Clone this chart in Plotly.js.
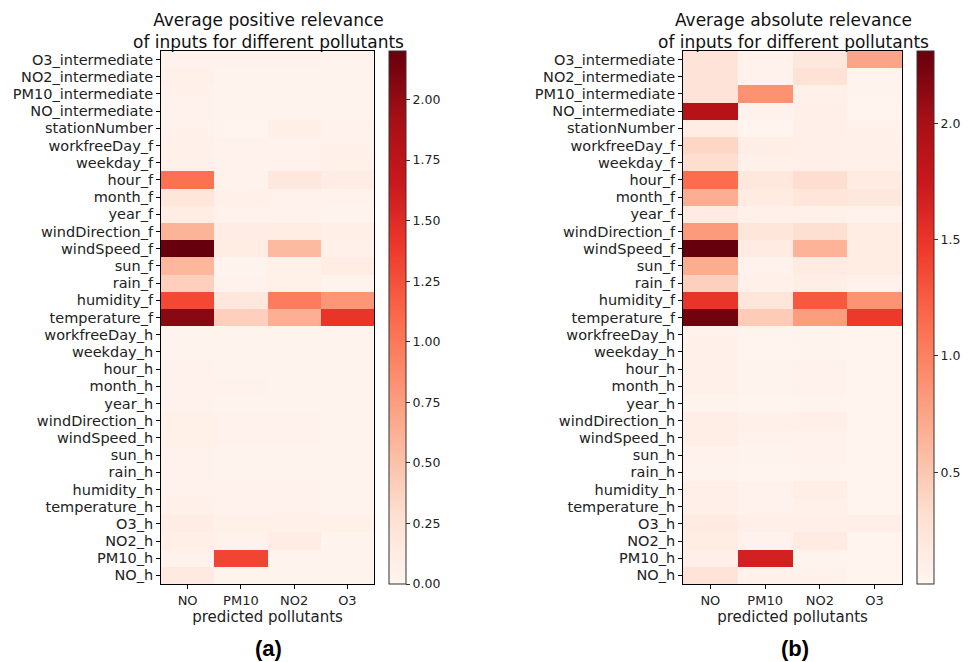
<!DOCTYPE html>
<html><head><meta charset="utf-8">
<script src="https://cdn.plot.ly/plotly-3.0.1.min.js"></script>
<style>html,body{margin:0;padding:0;background:#fff}#chart{width:968px;height:662px}</style>
</head><body><div id="chart"></div>
<script>
const rows = ["O3_intermediate","NO2_intermediate","PM10_intermediate","NO_intermediate","stationNumber","workfreeDay_f","weekday_f","hour_f","month_f","year_f","windDirection_f","windSpeed_f","sun_f","rain_f","humidity_f","temperature_f","workfreeDay_h","weekday_h","hour_h","month_h","year_h","windDirection_h","windSpeed_h","sun_h","rain_h","humidity_h","temperature_h","O3_h","NO2_h","PM10_h","NO_h"];
const pollutants = ["NO","PM10","NO2","O3"];

// (a) average positive relevance
const posNO   = [0.05,0.06,0.04,0.04,0.05,0.06,0.06,1.05,0.20,0.10,0.60,2.20,0.58,0.40,1.30,2.05,0.03,0.03,0.05,0.05,0.04,0.07,0.07,0.04,0.04,0.05,0.06,0.10,0.08,0.04,0.15];
const posPM10 = [0.04,0.03,0.02,0.02,0.01,0.04,0.04,0.04,0.06,0.04,0.10,0.12,0.03,0.04,0.18,0.40,0.02,0.02,0.03,0.04,0.03,0.05,0.04,0.03,0.03,0.04,0.04,0.07,0.05,1.32,0.03];
const posNO2  = [0.05,0.03,0.03,0.03,0.08,0.05,0.05,0.18,0.05,0.04,0.12,0.55,0.07,0.07,0.97,0.63,0.02,0.02,0.03,0.03,0.03,0.05,0.04,0.03,0.03,0.04,0.04,0.06,0.10,0.02,0.03];
const posO3   = [0.03,0.02,0.02,0.02,0.04,0.05,0.06,0.10,0.04,0.03,0.08,0.06,0.12,0.02,0.80,1.43,0.02,0.02,0.02,0.02,0.02,0.02,0.02,0.02,0.02,0.02,0.02,0.07,0.02,0.02,0.02];

// (b) average absolute relevance
const absNO   = [0.25,0.25,0.25,1.90,0.13,0.38,0.32,1.14,0.68,0.15,0.82,2.31,0.70,0.43,1.50,2.26,0.06,0.08,0.08,0.08,0.05,0.12,0.12,0.07,0.05,0.10,0.10,0.15,0.13,0.10,0.25];
const absPM10 = [0.07,0.07,0.88,0.06,0.04,0.12,0.09,0.20,0.15,0.08,0.22,0.15,0.06,0.08,0.22,0.47,0.05,0.04,0.05,0.05,0.04,0.08,0.06,0.05,0.04,0.06,0.06,0.10,0.07,1.67,0.06];
const absNO2  = [0.20,0.28,0.08,0.10,0.10,0.10,0.10,0.32,0.22,0.08,0.30,0.65,0.15,0.12,1.27,0.80,0.05,0.05,0.06,0.06,0.05,0.10,0.07,0.06,0.05,0.12,0.08,0.10,0.15,0.05,0.06];
const absO3   = [0.75,0.05,0.05,0.04,0.06,0.08,0.08,0.16,0.20,0.06,0.14,0.14,0.14,0.06,0.87,1.47,0.04,0.04,0.04,0.04,0.04,0.04,0.04,0.04,0.04,0.04,0.04,0.10,0.04,0.04,0.04];

const reds = [[0,"#fff5f0"],[0.125,"#fee0d2"],[0.25,"#fcbba1"],[0.375,"#fc9272"],[0.5,"#fb6a4a"],[0.625,"#ef3b2c"],[0.75,"#cb181d"],[0.875,"#a50f15"],[1,"#67000d"]];

const zA = rows.map((_, i) => [posNO[i], posPM10[i], posNO2[i], posO3[i]]);
const zB = rows.map((_, i) => [absNO[i], absPM10[i], absNO2[i], absO3[i]]);

const W = 968, H = 662;
const yTop = 51, yBot = 584;
const yDom = [(H - yBot) / H, (H - yTop) / H];
const font = "DejaVu Sans, sans-serif";

const cbCommon = {
  thickness: 17, thicknessmode: "pixels", len: (yBot - yTop) / H, lenmode: "fraction",
  y: (H - yBot) / H, yanchor: "bottom", xanchor: "left", xpad: 0, ypad: 0,
  outlinewidth: 1, outlinecolor: "#333", ticks: "outside", ticklen: 4, tickcolor: "#333",
  tickfont: {family: font, size: 12.5, color: "#222"}
};

const traces = [
  {type: "heatmap", x: pollutants, y: rows, z: zA, xaxis: "x", yaxis: "y",
   colorscale: reds, zmin: 0, zmax: 2.2, xgap: 0, ygap: 0,
   colorbar: Object.assign({}, cbCommon, {x: 389 / W, tick0: 0, dtick: 0.25, tickformat: ".2f"})},
  {type: "heatmap", x: pollutants, y: rows, z: zB, xaxis: "x2", yaxis: "y2",
   colorscale: reds, zmin: 0.02, zmax: 2.31,
   colorbar: Object.assign({}, cbCommon, {x: 917 / W, tick0: 0, dtick: 0.5, tickformat: ".1f"})}
];

const axX = (d) => ({domain: d, showline: true, mirror: true, linecolor: "#000", linewidth: 1,
  ticks: "outside", ticklen: 4, tickcolor: "#000", showgrid: false, zeroline: false,
  tickfont: {family: font, size: 13, color: "#222"},
  title: {text: "predicted pollutants", font: {family: font, size: 15, color: "#222"}, standoff: 3}});
const axY = (anchor) => ({domain: yDom, anchor: anchor, autorange: "reversed", showline: true, mirror: true,
  linecolor: "#000", linewidth: 1, ticks: "outside", ticklen: 4, tickcolor: "#000", showgrid: false,
  zeroline: false, tickfont: {family: font, size: 14.5, color: "#222"}, automargin: false});

const layout = {
  width: W, height: H, margin: {l: 0, r: 0, t: 0, b: 0},
  paper_bgcolor: "#fff", plot_bgcolor: "#fff", showlegend: false,
  xaxis: Object.assign(axX([161 / W, 374 / W]), {anchor: "y"}),
  yaxis: axY("x"),
  xaxis2: Object.assign(axX([683 / W, 902 / W]), {anchor: "y2"}),
  yaxis2: axY("x2"),
  annotations: [
    {text: "Average positive relevance<br>of inputs for different pollutants", xref: "paper", yref: "paper",
     x: 268 / W, y: (H - 31) / H, xanchor: "center", yanchor: "middle", showarrow: false,
     font: {family: font, size: 17, color: "#111"}},
    {text: "Average absolute relevance<br>of inputs for different pollutants", xref: "paper", yref: "paper",
     x: 793 / W, y: (H - 31) / H, xanchor: "center", yanchor: "middle", showarrow: false,
     font: {family: font, size: 17, color: "#111"}},
    {text: "<b>(a)</b>", xref: "paper", yref: "paper", x: 268 / W, y: (H - 648) / H,
     xanchor: "center", yanchor: "middle", showarrow: false,
     font: {family: "Liberation Sans, Arial, sans-serif", size: 22, color: "#000"}},
    {text: "<b>(b)</b>", xref: "paper", yref: "paper", x: 795 / W, y: (H - 648) / H,
     xanchor: "center", yanchor: "middle", showarrow: false,
     font: {family: "Liberation Sans, Arial, sans-serif", size: 22, color: "#000"}}
  ]
};

Plotly.newPlot("chart", traces, layout, {displayModeBar: false, staticPlot: true});
</script></body></html>
